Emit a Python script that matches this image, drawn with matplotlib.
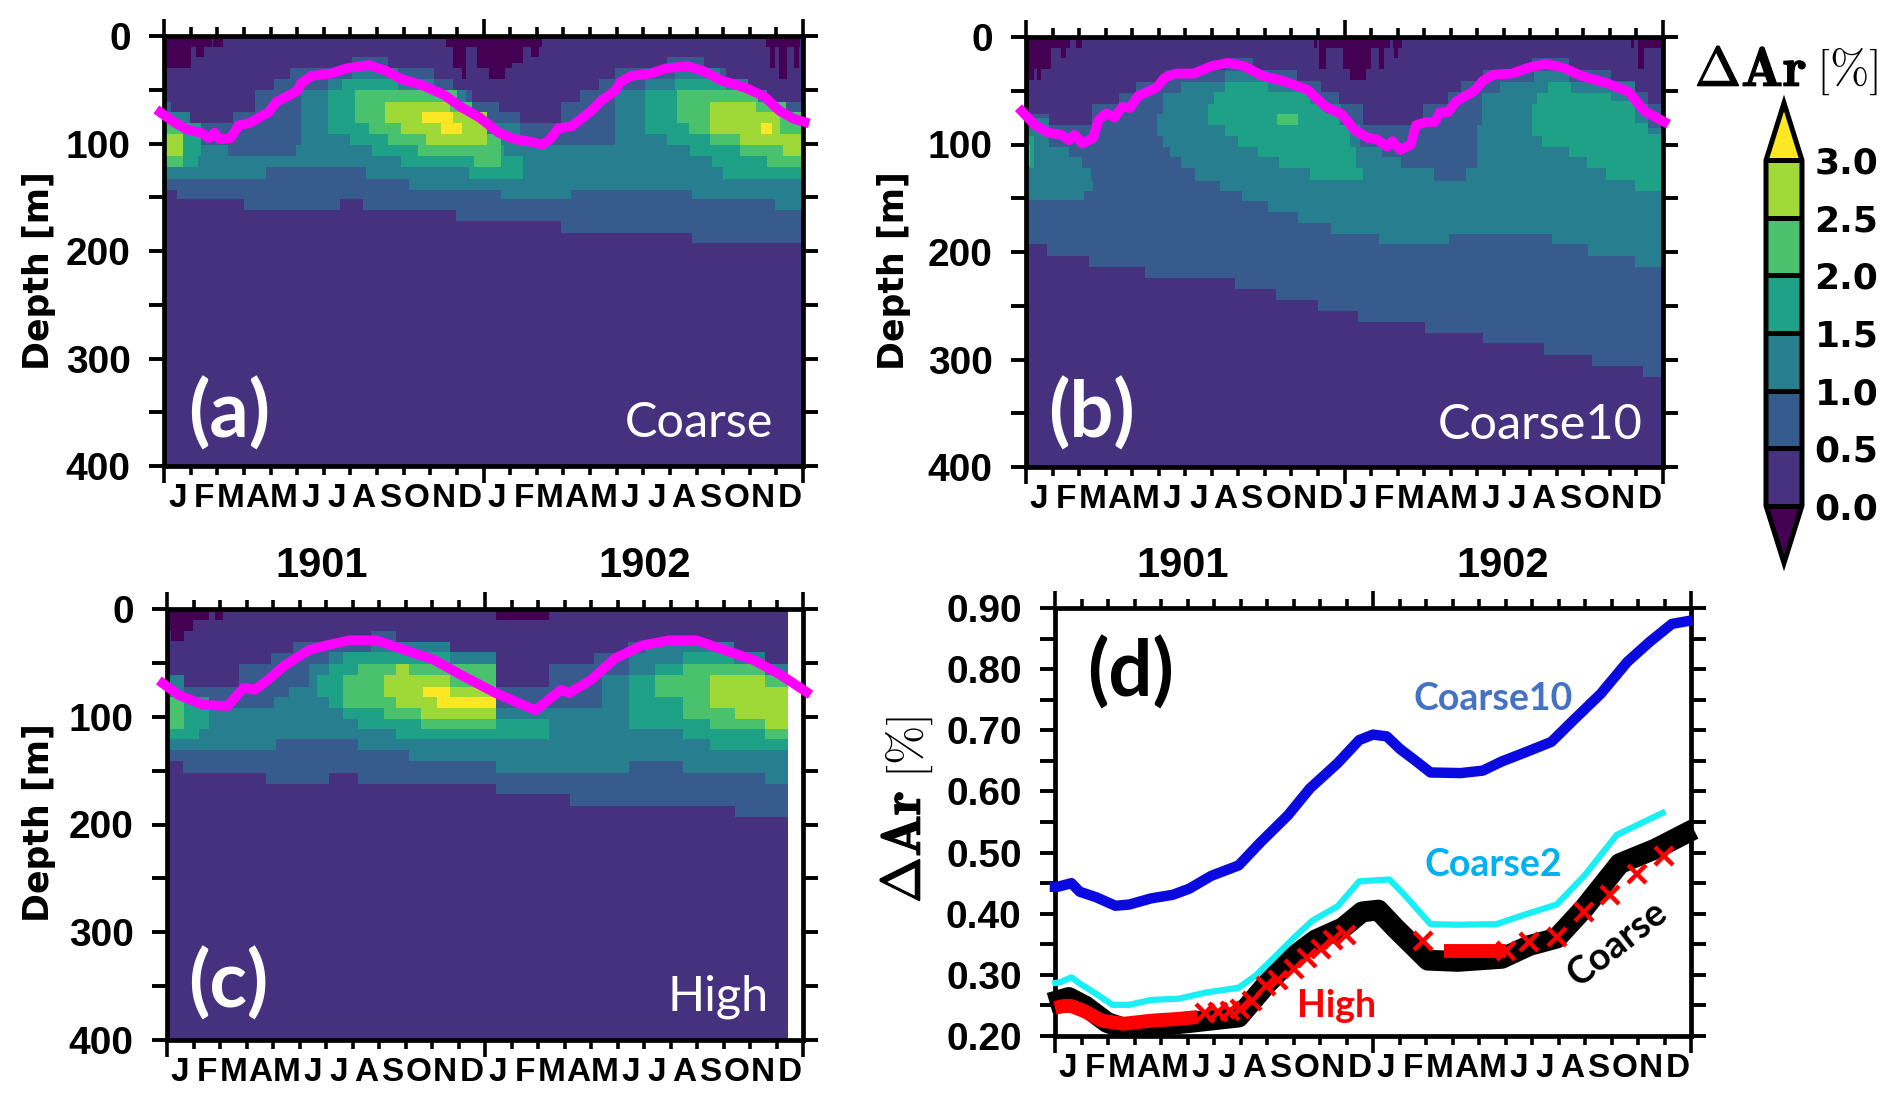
import numpy as np
import matplotlib
matplotlib.use('Agg')
import matplotlib.pyplot as plt
import matplotlib.patheffects as pe
from matplotlib.colors import BoundaryNorm

plt.rcParams['mathtext.fontset'] = 'cm'

W, H = 1892, 1120
months = ['J', 'F', 'M', 'A', 'M', 'J', 'J', 'A', 'S', 'O', 'N', 'D'] * 2
levels = [0.0, 0.5, 1.0, 1.5, 2.0, 2.5, 3.0]

# every band: value, edges in months / depth in m of its upper and lower limit
# ---- panel a (Coarse)
a05_top_t = [0, .26, .98, 2.6, 3.42, 4.13, 4.74, 7.08, 8.4, 10.13, 10.84, 11.55, 12.57, 13.38, 14.91, 15.62, 16.33, 16.94, 18.87, 20.3, 21.11, 21.92, 22.64, 24]
a05_top = [61, 71, 81, 71, 50, 40, 30, 20, 30, 40, 50, 61, 71, 81, 61, 50, 40, 30, 20, 30, 40, 50, 61]
a05_bot_t = [0, .5, 3.01, 6.61, 7.48, 10.94, 14.91, 19.83, 24]
a05_bot = [143, 152, 162, 152, 162, 172, 183, 193]
a10_top_t = [0, .98, 1.38, 2.4, 4.94, 5.15, 6.16, 7.08, 8.81, 10.13, 11.35, 12.16, 13.38, 16.94, 18.06, 19.18, 20.9, 21.92, 22.64, 24]
a10_top = [71, 91, 101, 112, 101, 50, 40, 30, 40, 50, 71, 81, 101, 50, 40, 30, 40, 50, 71]
a10_bot_t = [0, 3.82, 7.59, 9.21, 12.67, 15.31, 19.83, 22.94, 24]
a10_bot = [133, 122, 133, 143, 152, 143, 152, 162]
a_bands = [
    (1.75, [0, 1.38], [81], [0, 1.28, 1.38], [122, 112]),
    (1.75, [6.16, 6.67, 8.81, 10.13, 11.35, 12.16, 12.77, 13.48], [50, 40, 50, 61, 81, 101, 112], [6.16, 6.98, 7.79, 8.91, 11.45, 13.48], [91, 101, 112, 122, 133]),
    (1.75, [18.06, 19.18, 21.11, 22.33, 22.94, 24], [50, 40, 50, 61, 81], [18.06, 18.9, 19.75, 20.6, 21.0, 24], [91, 101, 112, 122, 133]),
    (2.25, [0, .7], [81], [0, .7], [122]),
    (2.25, [7.18, 11.0, 11.55, 12.16, 12.67], [50, 61, 71, 91], [7.18, 7.69, 8.4, 9.52, 11.65, 12.67], [81, 91, 101, 112, 122]),
    (2.25, [19.28, 22.33, 23.35, 24], [50, 61, 71], [19.28, 19.69, 20.5, 21.62, 22.64, 24], [81, 91, 101, 112, 122]),
    (2.75, [0, .7], [91], [0, .7], [112]),
    (2.75, [8.3, 10.74, 12.16], [61, 71], [8.3, 8.91, 9.82, 12.16], [81, 91, 101]),
    (2.75, [20.5, 22.23, 23.14, 24], [61, 71, 91], [20.5, 21.62, 23.25, 24], [91, 101, 112]),
    (3.25, [9.68, 10.84], [71], [9.68, 10.84], [81]),
    (3.25, [10.4, 11.2], [81], [10.4, 11.2], [91]),
    (3.25, [22.43, 22.84], [81], [22.43, 22.84], [91]),
]
a_dark_t0 = [0, 1, 1.2, 1.83, 10.6, 10.85, 11.2, 11.75, 12.2, 13.08, 13.8, 22.6, 22.75, 23.1, 23.65]
a_dark_t1 = [1, 1.8, 1.5, 2.2, 14.2, 11.35, 11.35, 13.08, 12.8, 13.5, 14.1, 23.9, 22.95, 23.4, 23.85]
a_dark_bot = [30, 10, 20, 10, 10, 30, 40, 30, 40, 25, 20, 10, 30, 40, 30]
a_mld_t = [-.14, .37, .87, 1.38, 1.69, 1.89, 2.09, 2.5, 2.81, 3.21, 3.62, 3.93, 4.23, 4.64, 5.0, 5.15, 5.55, 6.26, 6.87, 7.69, 8.3, 8.9, 9.72, 10.53, 11.15, 11.86, 12.57, 13.18, 13.69, 14.2, 14.5, 14.81, 15.31, 15.72, 16.03, 16.43, 16.94, 17.14, 17.55, 18.26, 18.87, 19.65, 20.3, 20.9, 21.82, 22.53, 23.14, 23.65, 24.06]
a_mld = [71, 80, 87, 90, 95, 90, 96, 95, 83, 81, 75, 71, 61, 56, 51, 44, 37, 35, 30, 27, 32, 40, 46, 55, 66, 76, 90, 96, 98, 101, 96, 86, 84, 76, 70, 60, 51, 43, 37, 35, 30, 28, 33, 41, 48, 56, 70, 77, 80]

# ---- panel b (Coarse10)
b05_top_t = [0, .85, 2.5, 3.5, 4.15, 5.25, 7.55, 8.55, 10.2, 11.1, 11.8, 12.7, 14.98, 15.9, 16.4, 17.2, 19.06, 20.45, 22.05, 22.95, 23.45, 24]
b05_top = [72, 82, 62, 52, 42, 31, 20, 31, 41, 51, 62, 82, 62, 51, 41, 31, 20, 31, 41, 51, 62]
b05_bot_t = [0, .8, 2.37, 4.48, 7.87, 9.42, 11.0, 12.53, 15.04, 17.2, 19.52, 21.33, 23.25, 24]
b05_bot = [193, 204, 214, 224, 234, 245, 255, 265, 275, 285, 296, 306, 316]
b10_top_t = [4.92, 5.16, 5.82, 7.51, 9.1, 10.24, 11.04, 11.84, 12.6, 13.39, 14.12, 15.38, 16.57, 16.97, 17.17, 17.87, 19.16, 20.46, 22.95, 23.45, 24]
b10_top = [72, 52, 42, 32, 42, 52, 62, 82, 102, 112, 122, 134, 122, 82, 52, 42, 32, 42, 62, 85]
b10_bot_t = [4.92, 5.16, 5.42, 5.82, 6.37, 7.31, 8.15, 9.1, 10.24, 11.5, 13.29, 15.92, 19.82, 21.18, 22.95, 24]
b10_bot = [92, 102, 112, 122, 134, 143, 153, 163, 173, 183, 193, 183, 193, 204, 214]
b_bands = [
    (1.25, [0, .84, 1.63, 2.1, 2.45, 2.53], [75, 102, 112, 122, 134], [0, 2.17, 2.53], [152, 143]),
    (1.75, [0, .3], [92], [0, .3], [122]),
    (1.75, [6.87, 7.07, 7.51, 9.1, 10.7, 11.3, 11.79, 12.19, 12.43, 12.69], [62, 51, 42, 51, 62, 72, 82, 102, 122], [6.87, 7.51, 7.97, 8.76, 9.56, 10.7, 12.69], [82, 92, 102, 112, 122, 133]),
    (1.75, [19.06, 19.26, 19.66, 20.56, 22.05, 22.95, 23.45, 24], [62, 52, 42, 52, 60, 80, 90], [19.06, 19.46, 20.46, 21.16, 21.85, 22.95, 24], [92, 102, 112, 122, 133, 143]),
    (2.25, [9.44, 10.24], [72], [9.44, 10.24], [82]),
    (2.25, [0, .15], [100], [0, .15], [120]),
]
b_dark_t0 = [0, 0, .1, .4, .75, 1.3, 1.9, 10.85, 11.05, 11.05, 11.93, 12.2, 13.3, 13.82, 13.88, 22.8, 23.05, 23.05]
b_dark_t1 = [.75, 1.67, .3, .55, .95, 1.5, 2.1, 10.95, 13.7, 11.3, 13.0, 12.8, 13.5, 14.14, 14.02, 22.9, 24, 23.3]
b_dark_bot = [30, 10, 40, 40, 30, 20, 10, 10, 10, 30, 30, 40, 30, 10, 20, 10, 10, 30]
b_mld_t = [-.16, .34, .84, 1.33, 1.63, 1.83, 2.13, 2.53, 2.73, 3.03, 3.33, 3.63, 3.92, 4.22, 4.92, 5.22, 5.62, 6.31, 7.0, 7.6, 8.2, 8.9, 9.7, 10.6, 11.3, 11.9, 12.4, 12.9, 13.2, 13.6, 13.8, 14.1, 14.5, 14.7, 15.1, 15.4, 15.6, 15.9, 16.2, 16.9, 17.2, 17.6, 18.3, 19.0, 19.6, 20.3, 20.9, 21.9, 22.7, 23.3, 24.05]
b_mld = [69, 82, 89, 91, 96, 91, 99, 94, 77, 71, 75, 65, 66, 55, 47, 38, 34, 34, 27, 24, 27, 36, 41, 49, 65, 72, 87, 94, 95, 102, 97, 105, 100, 82, 79, 79, 70, 70, 60, 50, 41, 35, 34, 28, 25, 29, 36, 43, 51, 69, 79]

# ---- panel c (High), the run stops before the end of the axis
c05_top_t = [0, 2.7, 3.93, 4.74, 7.71, 8.63, 10.67, 12.41, 14.4, 16.1, 17.4, 21.4, 22.5, 23.45]
c05_top = [72, 51, 41, 31, 20, 31, 40, 72, 51, 41, 31, 40, 51]
c05_bot_t = [0, .6, 3.72, 6.13, 7.2, 12.41, 15.2, 21.45, 23.45]
c05_bot = [141, 152, 162, 152, 162, 172, 183, 193]
c10_top_t = [0, .65, 1.5, 4.03, 4.6, 5.36, 6.1, 7.71, 10.67, 12.41, 16.4, 17.42, 18.04, 21.41, 22.54, 23.45]
c10_top = [61, 82, 92, 82, 72, 51, 40, 31, 40, 92, 61, 41, 31, 40, 51]
c10_bot_t = [0, 4.13, 7.2, 9.14, 12.41, 17.42, 19.47, 22.54, 23.45]
c10_bot = [131, 121, 131, 141, 152, 141, 152, 162]
c_bands = [
    (1.75, [0, 1.58], [82], [0, 1.23, 1.58], [121, 111]),
    (1.75, [5.66, 6.13, 6.65, 10.67, 12.41], [61, 51, 40, 51], [5.66, 6.13, 6.65, 7.2, 8.63, 12.41], [82, 92, 102, 111, 121]),
    (1.75, [12.41, 14.4], [102], [12.41, 14.4], [121]),
    (1.75, [17.42, 18.4, 19.47, 21.41, 22.54, 23.45], [61, 51, 40, 51, 61], [17.42, 19.47, 20.5, 23.45], [111, 121, 131]),
    (2.25, [0, .65], [82], [0, .65], [111]),
    (2.25, [6.65, 7.2, 12.41], [61, 51], [6.65, 8.18, 9.6, 12.41], [92, 102, 111]),
    (2.25, [18.4, 19.47, 22.54, 23.45], [61, 51, 61], [18.4, 19.47, 20.5, 22.54, 23.45], [82, 102, 111, 121]),
    (2.75, [8.18, 8.63, 9.14, 10.67, 12.41], [61, 51, 61, 72], [8.18, 8.63, 9.6, 12.41], [82, 92, 102]),
    (2.75, [20.5, 22.54, 23.45], [61, 72], [20.5, 21.45, 22.54, 23.45], [92, 102, 111]),
    (3.25, [9.65, 10.67], [72], [9.65, 10.67], [82]),
    (3.25, [10.2, 12.41], [82], [10.2, 12.41], [92]),
]
c_dark_t0 = [0, 0, .15, 1.8, 12.41]
c_dark_t1 = [1.58, 1.0, .65, 2.1, 14.4]
c_dark_bot = [10, 20, 30, 10, 10]
c_mld_t = [-.16, .45, 1.37, 2.29, 2.9, 3.3, 3.8, 4.4, 5.36, 5.97, 6.9, 7.9, 9.2, 10.06, 11.08, 12.4, 13.9, 14.87, 15.17, 15.99, 16.9, 17.9, 18.96, 19.98, 20.9, 22.1, 23.15, 24.13]
c_mld = [69, 80, 89, 90, 73, 75, 66, 53, 38, 34, 29, 29, 40, 47, 61, 78, 94, 75, 78, 66, 46, 34, 29, 29, 37, 47, 61, 77]

# ---- panel d, time series
coarse10_t = [-.2, .1, .62, .93, 1.55, 2.28, 2.8, 3.62, 4.45, 5.07, 5.9, 6.93, 7.76, 8.79, 9.62, 10.66, 11.48, 12.0, 12.52, 13.03, 13.55, 14.17, 15.3, 16.14, 16.86, 17.69, 18.73, 19.55, 20.6, 21.6, 22.45, 23.28, 24.06]
coarse10 = [.444, .444, .45, .436, .427, .413, .415, .425, .431, .441, .462, .479, .517, .561, .605, .646, .684, .693, .69, .669, .652, .631, .63, .634, .649, .663, .681, .716, .76, .812, .845, .874, .88]
coarse2_t = [-.1, .2, .62, .93, 1.55, 2.17, 2.8, 3.62, 4.66, 5.69, 6.93, 7.55, 8.38, 9.0, 9.72, 10.66, 11.48, 12.62, 13.14, 14.17, 15.2, 16.66, 17.69, 18.93, 19.97, 21.2, 22.45, 23.03]
coarse2 = [.286, .288, .296, .286, .269, .251, .251, .259, .261, .271, .279, .298, .333, .36, .389, .412, .453, .456, .433, .383, .382, .383, .398, .415, .462, .529, .555, .567]
coarse_t = [-.2, .52, 1.14, 1.97, 2.59, 3.62, 5.07, 6.93, 7.97, 9.0, 9.83, 10.86, 11.59, 12.2, 12.83, 14.07, 15.2, 16.86, 17.9, 18.93, 19.97, 21.31, 22.66, 24.1]
coarse = [.254, .263, .249, .222, .213, .216, .222, .231, .284, .33, .357, .377, .403, .406, .377, .324, .322, .327, .348, .36, .409, .482, .506, .538]
high_seg1_t = [0, .31, .62, 1.14, 1.76, 2.59, 3.62, 4.66, 5.38]
high_seg1 = [.246, .249, .249, .24, .225, .22, .225, .228, .231]
high_seg2_t = [14.69, 15.83, 17.03]
high_seg2 = [.339, .339, .339]
high_x_t = [5.65, 6.15, 6.62, 6.99, 7.45, 7.97, 8.42, 9.0, 9.52, 10.04, 10.49, 10.97, 13.9, 17.03, 17.9, 18.93, 19.97, 20.96, 21.97, 22.97]
high_x = [.238, .24, .241, .244, .257, .281, .292, .31, .327, .342, .357, .365, .355, .339, .353, .362, .402, .43, .465, .495]

cmap = plt.get_cmap('viridis', 8)
norm = BoundaryNorm(levels, 8, extend='both')
nt, nd = 960, 800
tc = (np.arange(nt) + .5) * 24 / nt
dc = (np.arange(nd) + .5) * 400 / nd


def step(edges, vals, t):
    idx = np.clip(np.searchsorted(edges, t, side='right') - 1, 0, len(vals) - 1)
    return np.array(vals, dtype=float)[idx]


def add_band(field, value, top_t, top, bot_t, bot):
    on = (tc >= max(top_t[0], bot_t[0])) & (tc < min(top_t[-1], bot_t[-1]))
    up = step(top_t, top, tc)
    lo = step(bot_t, bot, tc)
    for j in np.where(on)[0]:
        field[(dc >= up[j]) & (dc < lo[j]), j] = value


def make_field(b05, b10, bands, t0s, t1s, bots, tmax=24):
    field = np.full((nd, nt), 0.25)
    add_band(field, 0.75, *b05)
    add_band(field, 1.25, *b10)
    for band in bands:
        add_band(field, *band)
    for t0, t1, bot in zip(t0s, t1s, bots):
        field[np.ix_(dc < bot, (tc >= t0) & (tc < t1))] = -0.25
    field[:, tc >= tmax] = np.nan
    return field


def px_axes(fig, l, t, r, b):
    return fig.add_axes([l / W, 1 - b / H, (r - l) / W, (b - t) / H])


def ptext(fig, x, y, s, **kw):
    kw.setdefault('ha', 'center')
    kw.setdefault('va', 'center')
    fig.text(x / W, 1 - y / H, s, **kw)


def style_axis(ax, yticks, ylabels):
    for sp in ax.spines.values():
        sp.set_linewidth(3.4)
    ax.set_xlim(0, 24)
    ax.set_xticks(np.arange(25))
    ax.set_xticklabels([])
    ax.set_xticks(np.arange(24) + .5, months, minor=True)
    ax.tick_params(axis='x', which='major', direction='out', top=True, bottom=True, length=6.5, width=2.6)
    ax.tick_params(axis='x', which='minor', length=0, pad=12, labelsize=24)
    for i, tick in enumerate(ax.xaxis.get_major_ticks()):
        if i % 12 == 0:
            tick.tick1line.set_markersize(12)
            tick.tick2line.set_markersize(12)
    ax.set_yticks(yticks, ylabels)
    ax.tick_params(axis='y', direction='out', left=True, right=True, length=11, width=2.8, pad=13, labelsize=28)
    for lab in ax.get_xticklabels(minor=True) + ax.get_yticklabels():
        lab.set_fontfamily('Liberation Sans')
        lab.set_fontweight('bold')


def heat_panel(fig, rect, field, mld_t, mld):
    ax = px_axes(fig, *rect)
    im = ax.imshow(field, extent=[0, 24, 400, 0], aspect='auto', cmap=cmap, norm=norm, interpolation='nearest')
    ax.plot(mld_t, mld, color='#ff00ff', lw=7, clip_on=False, zorder=5)
    ax.set_ylim(400, 0)
    style_axis(ax, np.arange(0, 401, 50), ['0', '', '100', '', '200', '', '300', '', '400'])
    return ax, im


fig = plt.figure(figsize=(W / 100, H / 100), dpi=100)

field_a = make_field((a05_top_t, a05_top, a05_bot_t, a05_bot), (a10_top_t, a10_top, a10_bot_t, a10_bot), a_bands, a_dark_t0, a_dark_t1, a_dark_bot)
field_b = make_field((b05_top_t, b05_top, b05_bot_t, b05_bot), (b10_top_t, b10_top, b10_bot_t, b10_bot), b_bands, b_dark_t0, b_dark_t1, b_dark_bot)
field_c = make_field((c05_top_t, c05_top, c05_bot_t, c05_bot), (c10_top_t, c10_top, c10_bot_t, c10_bot), c_bands, c_dark_t0, c_dark_t1, c_dark_bot, tmax=23.45)

ax_a, im = heat_panel(fig, (164, 36, 803, 466), field_a, a_mld_t, a_mld)
ax_b, _ = heat_panel(fig, (1026, 37, 1663, 467), field_b, b_mld_t, b_mld)
ax_c, _ = heat_panel(fig, (167, 609, 803, 1040), field_c, c_mld_t, c_mld)

# panel d
ax_d = px_axes(fig, 1055, 608, 1691, 1036)
ax_d.plot(coarse_t, coarse, color='black', lw=15, solid_capstyle='butt', clip_on=False, zorder=3)
ax_d.plot(coarse10_t, coarse10, color='#0a0ae0', lw=7.5, solid_capstyle='butt', clip_on=False, zorder=3)
ax_d.plot(coarse2_t, coarse2, color='#19f0f5', lw=4.5, solid_capstyle='butt', clip_on=False, zorder=3)
ax_d.plot(high_seg1_t, high_seg1, color='#ff0000', lw=10, solid_capstyle='butt', clip_on=False, zorder=4)
ax_d.plot(high_seg2_t, high_seg2, color='#ff0000', lw=10, solid_capstyle='butt', zorder=4)
ax_d.plot(high_x_t, high_x, ls='none', marker='x', ms=13, mew=3.2, color='#ff0000', zorder=4)
ax_d.set_ylim(.2, .9)
style_axis(ax_d, np.arange(.2, .901, .05), [f'{v:.2f}' if i % 2 == 0 else '' for i, v in enumerate(np.arange(.2, .901, .05))])

# colour bar, the axes box holds the two tips as well
cax = px_axes(fig, 1766, 103, 1802, 563)
cb = fig.colorbar(im, cax=cax, extend='both', extendfrac=.166, drawedges=True, ticks=levels, spacing='uniform')
cb.outline.set_linewidth(3.6)
cb.dividers.set_linewidth(3.6)
cb.ax.tick_params(length=0, pad=9, labelsize=26)
cb.ax.set_yticklabels([f'{v:.1f}' for v in levels], fontweight='bold')

bold = dict(family='Liberation Sans', fontweight='bold', color='black')
for x in (322, 645, 1183, 1503):
    ptext(fig, x, 566, '1901' if x in (322, 1183) else '1902', fontsize=30, **bold)

dep = dict(family='DejaVu Sans', fontweight='bold', fontsize=25, rotation=90)
ptext(fig, 39, 271, 'Depth [m]', **dep)
ptext(fig, 894, 271, 'Depth [m]', **dep)
ptext(fig, 39, 823, 'Depth [m]', **dep)

big = dict(family='Lato', fontweight='bold', fontsize=56)
ptext(fig, 229, 414, '(a)', color='white', **big)
ptext(fig, 1091, 414, '(b)', color='white', **big)
ptext(fig, 228, 984, '(c)', color='white', **big)
ptext(fig, 1131, 673, '(d)', color='black', **big)

ptext(fig, 699, 423, 'Coarse', color='white', family='Lato', fontsize=35)
ptext(fig, 1540, 425, 'Coarse10', color='white', family='Lato', fontsize=35)
ptext(fig, 718, 997, 'High', color='white', family='Lato', fontsize=35)

lab = dict(family='Lato', fontweight='bold', fontsize=27)
ptext(fig, 1493, 699, 'Coarse10', color='#4472c4', **lab)
ptext(fig, 1493, 865, 'Coarse2', color='#00b0f0', **lab)
ptext(fig, 1337, 1006, 'High', color='#ff0000', **lab)
ptext(fig, 1617, 944, 'Coarse', color='black', rotation=38, **lab)

# the bold part of the label is heavier than the cm bold face
heavy = [pe.withStroke(linewidth=.8, foreground='black')]
ptext(fig, 905, 847, r'$\mathbf{\Delta Ar}$', fontsize=40, rotation=90, path_effects=heavy)
ptext(fig, 909, 747, r'$[\%]$', fontsize=34, rotation=90)
ptext(fig, 1751, 71, r'$\mathbf{\Delta Ar}$', fontsize=40, path_effects=heavy)
ptext(fig, 1847, 71, r'$[\%]$', fontsize=34)

fig.savefig('out.png', dpi=100, facecolor='white')
